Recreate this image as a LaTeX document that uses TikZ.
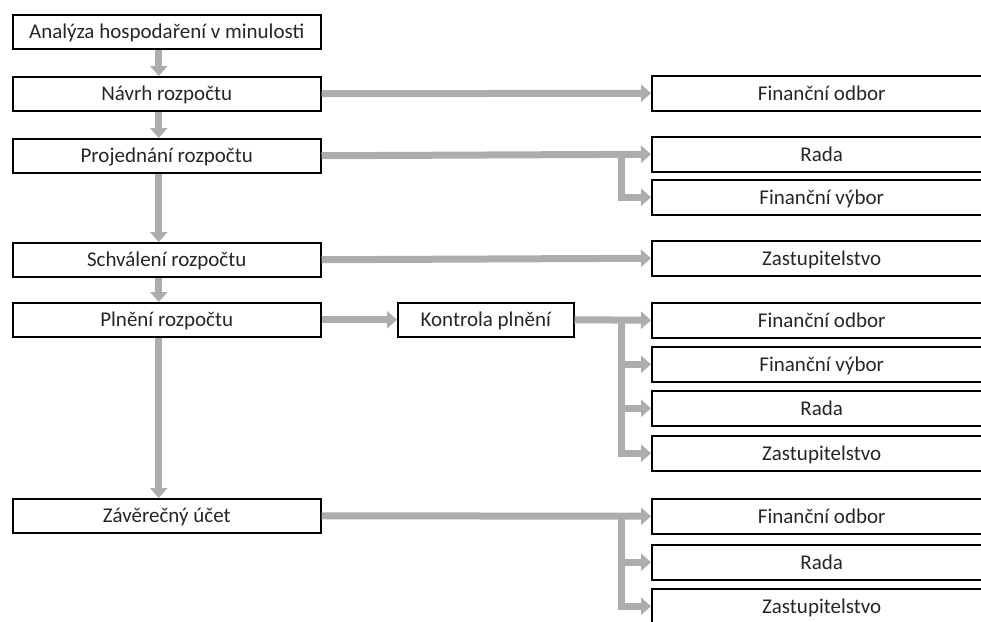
\documentclass[tikz,border=0pt]{standalone}
\usepackage{fontspec}
\setmainfont{Carlito}
\usepackage{xcolor}
\usetikzlibrary{positioning, arrows.meta}
\definecolor{FlowGrey}{HTML}{ADADAD}
\definecolor{InkDark}{HTML}{262626}

\begin{document}
\begin{tikzpicture}[x=1pt, y=-1pt, font=\fontsize{21}{24}\selectfont,
  stage/.style={draw, line width=1.5pt, anchor=north west, text=InkDark,
    minimum width=308pt, minimum height=34pt, inner sep=0pt,
    text height=17pt, text depth=3pt},
  organ/.style={stage, minimum width=340pt, minimum height=35pt},
  flow/.style={FlowGrey, line width=7pt, -{Triangle[width=17pt, length=10pt]}}]
  \useasboundingbox (0,0) rectangle (981,621);
  % budget stages
  \node[stage] (analyza) at (12,14) {Analýza hospodaření v minulosti};
  \node[stage] (navrh) at (12,76) {Návrh rozpočtu};
  \node[stage] (projednani) at (12,138) {Projednání rozpočtu};
  \node[stage] (schvaleni) at (12,242) {Schválení rozpočtu};
  \node[stage] (plneni) at (12,302) {Plnění rozpočtu};
  \node[stage] (zaverecny) at (12,498) {Závěrečný účet};
  \node[stage, minimum width=176pt] (kontrola) at (397,302) {Kontrola plnění};
  % bodies
  \foreach \name/\y/\lbl in {fo1/75/Finanční odbor, rada1/136/Rada, fv1/179/Finanční výbor,
      zast1/240/Zastupitelstvo, fo2/302/Finanční odbor, fv2/346/Finanční výbor,
      rada2/390/Rada, zast2/435/Zastupitelstvo, fo3/498/Finanční odbor,
      rada3/544/Rada, zast3/588/Zastupitelstvo}
    \node[organ] (\name) at (651,\y) {\lbl};
  \coordinate (split) at (621,0);
  % main sequence
  \foreach \a/\b in {analyza/navrh, navrh/projednani, projednani/schvaleni,
      schvaleni/plneni, plneni/zaverecny}
    \draw[flow] ([xshift=-8pt]\a.south) -- ([xshift=-8pt]\b.north);
  % who is involved
  \draw[flow] (navrh.east) -- (fo1.west);
  \draw[flow] (projednani.east) -- (rada1.west);
  \draw[flow] (projednani.east -| split) |- (fv1.west);
  \draw[flow] (schvaleni.east) -- (zast1.west);
  \draw[flow] (plneni.east) -- (kontrola.west);
  \draw[flow] (kontrola.east) -- (fo2.west);
  \foreach \t in {fv2, rada2, zast2}
    \draw[flow] (kontrola.east -| split) |- (\t.west);
  \draw[flow] (zaverecny.east) -- (fo3.west);
  \foreach \t in {rada3, zast3}
    \draw[flow] (zaverecny.east -| split) |- (\t.west);
\end{tikzpicture}
\end{document}
